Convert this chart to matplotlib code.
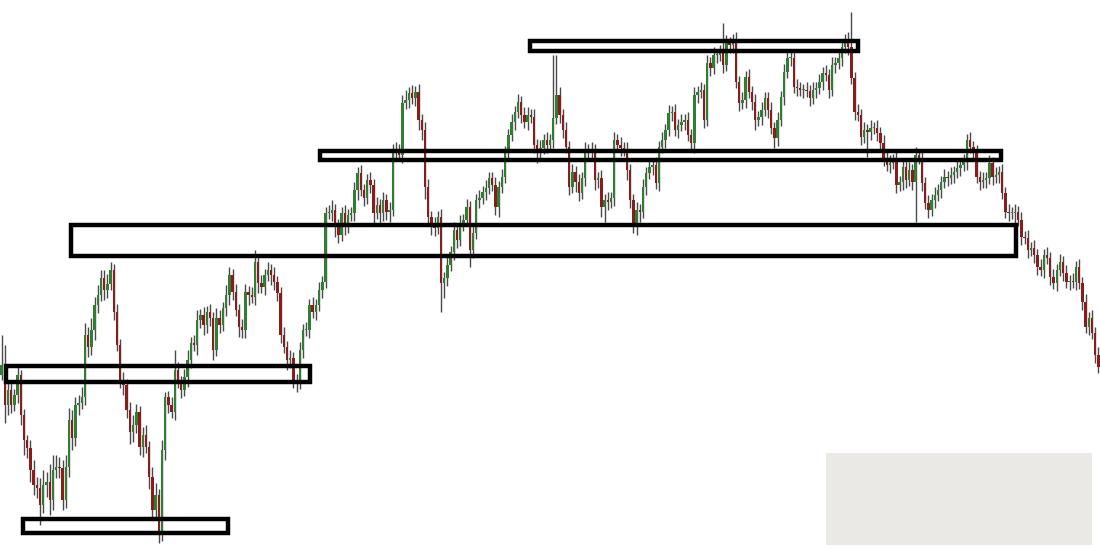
import matplotlib
matplotlib.use("Agg")
import matplotlib.pyplot as plt
from matplotlib.patches import Rectangle
import numpy as np

# ---- data (price in points) ----
first_open = 175
closes = [
    185,145,160,145,155,175,135,110,102,80,65,
    62,45,65,68,50,80,83,82,50,83,
    130,112,145,147,153,215,203,220,245,255,272,
    260,266,280,238,205,170,165,140,118,125,138,
    103,115,103,73,40,55,15,100,153,145,138,
    180,168,160,173,190,207,205,230,235,225,238,
    232,200,232,225,242,255,275,258,240,223,220,
    258,255,253,288,267,263,275,280,275,268,257,
    215,203,190,192,170,167,200,220,220,245,238,
    245,260,268,337,337,340,323,315,337,323,335,
    337,360,377,360,352,370,365,337,345,337,350,
    338,340,400,400,395,447,450,457,452,458,430,
    420,363,333,325,322,333,267,272,285,298,320,
    310,327,330,343,300,317,350,352,358,362,372,
    365,343,363,373,398,415,428,438,448,435,428,
    435,433,405,397,402,410,405,410,432,455,435,
    420,403,363,378,368,357,372,400,398,400,370,
    372,343,350,348,352,410,405,402,400,380,350,
    323,340,338,363,377,383,385,367,403,410,
    420,437,438,420,425,428,430,415,407,455,
    458,460,430,487,482,495,495,497,485,507,505,
    510,468,447,450,473,458,448,430,433,440,452,
    440,422,412,430,453,478,492,492,463,462,460,
    460,459,452,460,462,468,477,475,460,485,487,
    492,503,510,503,472,438,435,413,420,418,422,
    422,417,407,392,385,387,390,365,368,383,
    370,380,368,395,392,367,347,340,350,355,360,
    368,373,372,375,378,382,385,388,410,403,
    397,373,368,370,372,387,373,375,378,357,
    338,337,337,338,330,313,312,300,302,295,
    283,280,295,292,273,267,280,288,277,268,
    269,268,283,267,248,223,232,217,195,183,
]
wick_up = [
    30,20,8,10,6,10,5,6,5,8,10,
    8,10,15,10,18,15,12,10,8,12,
    12,10,8,8,10,12,8,12,8,10,8,
    8,10,8,6,8,6,8,6,8,10,8,
    6,8,10,6,10,12,6,10,5,6,8,
    20,8,6,8,10,6,8,10,6,8,6,
    8,6,10,8,6,10,8,6,8,6,8,
    8,6,8,12,6,8,6,8,6,8,6,
    6,8,6,8,6,6,8,6,8,6,8,
    6,8,6,6,8,10,6,8,6,8,6,
    6,8,6,8,6,6,8,6,8,6,8,
    6,8,6,8,6,8,10,6,8,6,8,
    6,8,8,6,8,6,8,6,8,6,8,
    6,8,6,8,6,8,6,8,6,8,6,
    6,8,6,8,6,6,8,6,8,6,8,
    8,6,8,6,8,6,8,6,63,40,8,
    6,8,6,8,6,8,6,8,6,8,6,
    6,8,6,8,6,8,6,8,6,8,6,
    6,8,6,8,6,8,6,8,6,8,
    6,8,6,8,6,8,6,8,6,8,
    6,8,6,8,6,8,6,8,30,8,6,
    6,8,6,8,6,8,6,8,6,8,6,
    6,8,6,8,6,8,6,8,6,8,6,
    6,8,6,8,6,8,6,8,6,8,6,
    6,8,6,8,35,6,8,6,8,6,8,
    6,8,6,8,6,8,6,8,6,8,
    6,8,6,8,6,8,6,8,6,8,6,
    6,8,6,8,6,8,6,8,6,8,
    6,8,6,8,6,8,6,8,6,8,
    6,8,6,8,6,8,6,8,6,8,
    6,8,6,8,6,8,6,8,6,8,
    6,8,6,8,6,8,6,8,6,8,
]
wick_dn = [
    5,18,10,8,6,8,10,15,10,12,10,
    10,20,8,12,15,10,8,10,10,8,
    10,12,8,10,6,8,10,8,10,8,6,
    10,8,6,8,6,8,10,8,12,10,8,
    8,10,6,12,10,8,8,6,10,8,6,
    8,6,8,6,10,8,6,10,8,10,8,
    8,10,6,8,6,8,10,8,6,10,8,
    8,10,6,8,10,6,8,6,10,8,8,
    8,6,10,8,8,9,6,8,6,8,6,
    8,6,8,6,6,8,10,8,6,8,6,
    6,8,10,6,8,6,8,10,6,10,8,
    8,10,6,8,6,8,6,8,6,8,10,
    10,12,8,10,8,6,29,15,8,6,8,
    8,6,8,6,17,8,6,8,6,8,6,
    6,8,10,6,6,8,6,8,6,8,6,
    8,6,8,10,8,6,8,6,8,6,8,
    8,6,8,6,10,8,6,8,6,8,10,
    8,10,15,8,6,8,6,8,6,10,8,
    6,8,10,6,8,6,8,6,8,6,
    8,6,8,6,8,6,8,6,8,10,
    8,6,8,6,8,6,8,6,8,6,8,
    8,6,8,6,8,6,8,10,6,8,6,
    8,6,10,8,6,8,6,8,6,8,6,
    8,6,8,6,8,6,8,6,8,6,8,
    6,8,6,8,6,8,6,8,6,25,8,
    6,8,6,8,6,8,6,8,6,8,
    8,6,8,40,6,8,6,8,6,8,6,
    8,6,8,6,8,6,8,6,8,6,
    8,6,8,6,8,6,8,6,8,6,
    6,8,6,10,6,8,6,8,6,8,
    8,6,8,6,8,6,8,6,8,6,
    8,6,8,6,8,6,8,6,8,6,
]

# zones: (start candle, end candle, low price, high price)
zone_start = [1.5, 6.8, 21.5, 99.4, 164.9]
zone_end   = [96.3, 70.7, 316.2, 311.5, 266.9]
zone_low   = [168, 17, 294.5, 390.5, 499.5]
zone_high  = [184, 31, 325.5, 399.5, 509.5]

# ---- derived OHLC ----
closes_a = np.array(closes, dtype=float)
opens_a = np.concatenate([[first_open], closes_a[:-1]])
highs_a = np.maximum(opens_a, closes_a) + np.array(wick_up)
lows_a = np.minimum(opens_a, closes_a) - np.array(wick_dn)
n = len(closes_a)
x = np.arange(n)

fig = plt.figure(figsize=(11, 5.5), dpi=100)
ax = fig.add_axes([0, 0, 1, 1])
ax.set_xlim(-0.5, n - 0.5)
ax.set_ylim(0, 550)
ax.axis("off")

up = closes_a >= opens_a
green = "#2f7f32"
red = "#8a1c1c"
ax.vlines(x, lows_a, highs_a, color="#4a4a4a", lw=1.0, zorder=2)
bottoms = np.minimum(opens_a, closes_a)
heights = np.maximum(np.abs(closes_a - opens_a), 1.5)
ax.bar(x, heights, bottom=bottoms, width=0.75,
       color=np.where(up, green, red), edgecolor="none", zorder=3)

for s, e, lo, hi in zip(zone_start, zone_end, zone_low, zone_high):
    ax.add_patch(Rectangle((s, lo), e - s, hi - lo, fill=False,
                           edgecolor="black", lw=3.2, zorder=5))

ax.add_patch(Rectangle((0.751, 0.009), 0.242, 0.167, transform=ax.transAxes,
                       facecolor="#ebe9e5", edgecolor="none", zorder=6))

fig.savefig("out.png", dpi=100)
